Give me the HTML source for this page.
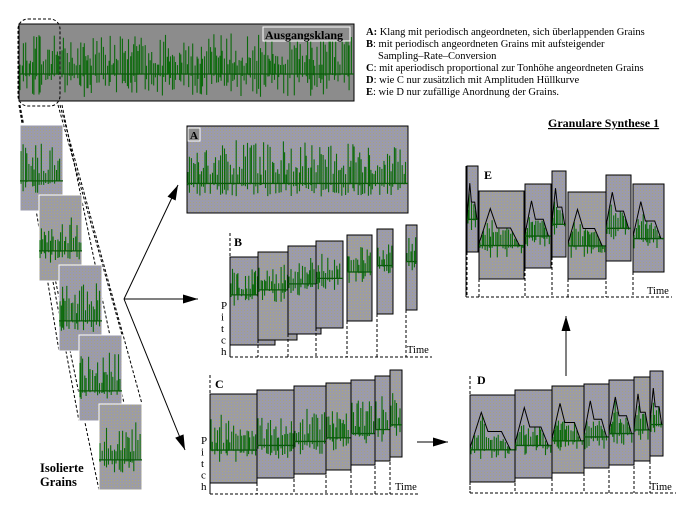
<!DOCTYPE html>
<html><head><meta charset="utf-8"><style>
html,body{margin:0;padding:0;background:#fff;width:692px;height:515px;overflow:hidden}
svg{display:block}
text{font-family:"Liberation Serif",serif;fill:#000}
</style></head><body>
<svg id="s" width="692" height="515" viewBox="0 0 692 515" xmlns="http://www.w3.org/2000/svg">
<defs>
<pattern id="p" width="3" height="3" patternUnits="userSpaceOnUse">
<rect width="3" height="3" fill="#9b9bac"/><rect x="1" y="1" width="1" height="1" fill="#a7a27a"/>
</pattern>
<pattern id="q" width="3" height="3" patternUnits="userSpaceOnUse">
<rect width="3" height="3" fill="#9c9ca6"/><rect x="0" y="0" width="1" height="1" fill="#aea873"/>
</pattern>
</defs>
<g id="root"></g>
<text x="366" y="35" font-size="10.5"><tspan font-weight="bold">A:</tspan> Klang mit periodisch angeordneten, sich überlappenden Grains</text>
<text x="366" y="47" font-size="10.5"><tspan font-weight="bold">B</tspan>: mit periodisch angeordneten Grains mit aufsteigender</text>
<text x="378" y="59" font-size="10.5">Sampling–Rate–Conversion</text>
<text x="366" y="71" font-size="10.5"><tspan font-weight="bold">C</tspan>: mit aperiodisch proportional zur Tonhöhe angeordneten Grains</text>
<text x="366" y="83" font-size="10.5"><tspan font-weight="bold">D</tspan>: wie C nur zusätzlich mit Amplituden Hüllkurve</text>
<text x="366" y="95" font-size="10.5"><tspan font-weight="bold">E</tspan>: wie D nur zufällige Anordnung der Grains.</text>
<text x="548" y="127" font-size="12" font-weight="bold" text-decoration="underline">Granulare Synthese 1</text>
<text x="40" y="472" font-size="12.5" font-weight="bold">Isolierte</text>
<text x="40" y="486" font-size="12.5" font-weight="bold">Grains</text>
</svg>
<script>
var NS="http://www.w3.org/2000/svg",root=document.getElementById('root');
var seed=12345;function R(){seed=(seed*16807)%2147483647;return seed/2147483647;}
function el(t,a,p){var e=document.createElementNS(NS,t);for(var k in a)e.setAttribute(k,a[k]);(p||root).appendChild(e);return e;}
function txt(x,y,s,fs,fw){var e=el('text',{x:x,y:y,'font-size':fs||11,'font-weight':fw||'normal'});e.textContent=s;return e;}
var cid=0;
function wave(x,y0,w,up,down,step,env,clip){
 var d='';
 for(var i=x+1;i<x+w-1;i+=step*(0.6+0.8*R())){
  var r=R(),h=up*(0.2+0.8*Math.pow(r,1.4));
  var dn=down*Math.pow(R(),2.2);
  if(env){var lim=env(i);if(h>y0-lim)h=Math.max(0,(y0-lim))*(0.5+0.5*R());}
  d+='M'+i.toFixed(1)+' '+(y0+dn).toFixed(1)+'V'+(y0-h).toFixed(1);
 }
 el('path',{d:d,stroke:'#0b6a0b','stroke-width':1.1,fill:'none','clip-path':clip||''});
 el('line',{x1:x,y1:y0,x2:x+w,y2:y0,stroke:'#0b5a0b','stroke-width':1.3,'clip-path':clip||''});
}
function grain(x1,y1,x2,y2,bl,opts){
 opts=opts||{};
 var w=x2-x1,h=y2-y1;cid++;
 var cp=el('clipPath',{id:'c'+cid});el('rect',{x:x1,y:y1,width:w,height:h},cp);
 el('rect',{x:x1,y:y1,width:w,height:h,fill:(cid%3==0?'url(#q)':'url(#p)'),stroke:opts.white?'#fff':'#000','stroke-width':1});
 var y0=y1+h*bl;
 var env=null;
 if(opts.env){
  var ex=[x1,x1+0.25*w,x1+0.4*w,x1+0.7*w,x1+0.9*w],ey=[y0-2,y1+0.2*h,y1+0.42*h,y1+0.42*h,y0];
  env=function(X){for(var k=0;k<4;k++){if(X>=ex[k]&&X<=ex[k+1]){var t=(X-ex[k])/(ex[k+1]-ex[k]);return ey[k]+t*(ey[k+1]-ey[k]);}}return y0;};
 }
 wave(x1,y0,w,h*(opts.up||0.45),h*0.15,1.8,env,'url(#c'+cid+')');
 if(opts.env){var pts=[];for(var k=0;k<5;k++)pts.push(ex[k].toFixed(1)+','+ey[k].toFixed(1));
  el('polyline',{points:pts.join(' '),fill:'none',stroke:'#000','stroke-width':1,'clip-path':'url(#c'+cid+')'});}
}
function arrow(x1,y1,x2,y2){
 el('line',{x1:x1,y1:y1,x2:x2,y2:y2,stroke:'#000','stroke-width':1});
 var a=Math.atan2(y2-y1,x2-x1),L=15,W=4.5;
 var bx=x2-L*Math.cos(a),by=y2-L*Math.sin(a);
 el('polygon',{points:x2+','+y2+' '+(bx+W*Math.sin(a))+','+(by-W*Math.cos(a))+' '+(bx-W*Math.sin(a))+','+(by+W*Math.cos(a)),fill:'#000'});
}
function dash(x1,y1,x2,y2){el('line',{x1:x1,y1:y1,x2:x2,y2:y2,stroke:'#000','stroke-width':1,'stroke-dasharray':'3,2'});}
el('rect',{x:19,y:24,width:335,height:77,fill:'#8c8c8c',stroke:'#000','stroke-width':1});
cid++;var cp=el('clipPath',{id:'c'+cid});el('rect',{x:19,y:24,width:335,height:77},cp);
wave(19,74,335,41,24,1.7,null,'url(#c'+cid+')');
el('rect',{x:263,y:27,width:87,height:14,fill:'#8c8c8c',stroke:'#fff','stroke-width':1});
txt(265,39,'Ausgangsklang',12,'bold');
el('rect',{x:18,y:19,width:42,height:87,rx:10,fill:'none',stroke:'#000','stroke-dasharray':'3,2'});
var G=[[20,125],[39,195],[59,265],[79,335],[99,404]];
[[19,105,99,490],[20,105,79,421],[60,105,142,404],[62,105,142,490],[58,105,122,335],[19,105,59,351]].forEach(function(l){dash(l[0],l[1],l[2],l[3]);});
G.forEach(function(g){grain(g[0],g[1],g[0]+43,g[1]+86,0.65,{white:true,up:0.45});});
arrow(124,299,178,185);arrow(124,299,198,299);arrow(124,299,185,450);
arrow(417,442,448,442);arrow(566,376,566,316);
grain(187,126,408,213,0.66,{up:0.5});
el('rect',{x:188,y:128,width:12,height:13,fill:'#8c8c8c',stroke:'#fff'});txt(190,139,'A',11,'bold');
dash(230,233,230,357);dash(230,357,432,357);
var B=[[230,257,275,345],[258,252,297,340],[288,246,321,334],[316,241,343,328],[347,235,372,321],[377,229,393,314],[406,225,417,310]];
B.forEach(function(g){dash(g[0],g[3],g[0],357);grain(g[0],g[1],g[2],g[3],0.43,{up:0.3});});
txt(234,246,'B',12,'bold');txt(407,353,'Time',10.5);
['P','i','t','c','h'].forEach(function(c,i){txt(221,309+i*11.5,c,11);});
dash(210,375,210,494);dash(210,494,420,494);
var C=[[210,394,257,483],[257,390,294,478],[294,386,326,474],[326,383,351,470],[351,380,375,465],[375,376,390,461],[390,370,402,457]];
C.forEach(function(g){dash(g[0],g[3],g[0],494);grain(g[0],g[1],g[2],g[3],0.63,{up:0.4});});
txt(215,388,'C',12,'bold');txt(395,490,'Time',10.5);
['P','i','t','c','h'].forEach(function(c,i){txt(201,444+i*11.5,c,11);});
dash(470,376,470,493);dash(470,493,676,493);
var D=[[470,395,515,482],[515,390,552,478],[552,386,584,473],[584,384,609,468],[609,380,634,465],[634,377,650,461],[650,371,663,456]];
D.forEach(function(g){dash(g[0],g[3],g[0],493);grain(g[0],g[1],g[2],g[3],0.63,{up:0.5,env:true});});
txt(477,384,'D',12,'bold');txt(650,490,'Time',10.5);
el('line',{x1:466,y1:166,x2:466,y2:297,stroke:'#000'});dash(466,297,672,297);
var E=[[467,166,478,252],[479,191,524,279],[525,184,551,268],[552,171,566,257],[568,192,606,279],[606,175,631,261],[633,184,664,272]];
E.forEach(function(g){dash(g[0],g[3],g[0],297);grain(g[0],g[1],g[2],g[3],0.62,{up:0.5,env:true});});
txt(484,179,'E',12,'bold');txt(647,294,'Time',10.5);
</script>
</body></html>
